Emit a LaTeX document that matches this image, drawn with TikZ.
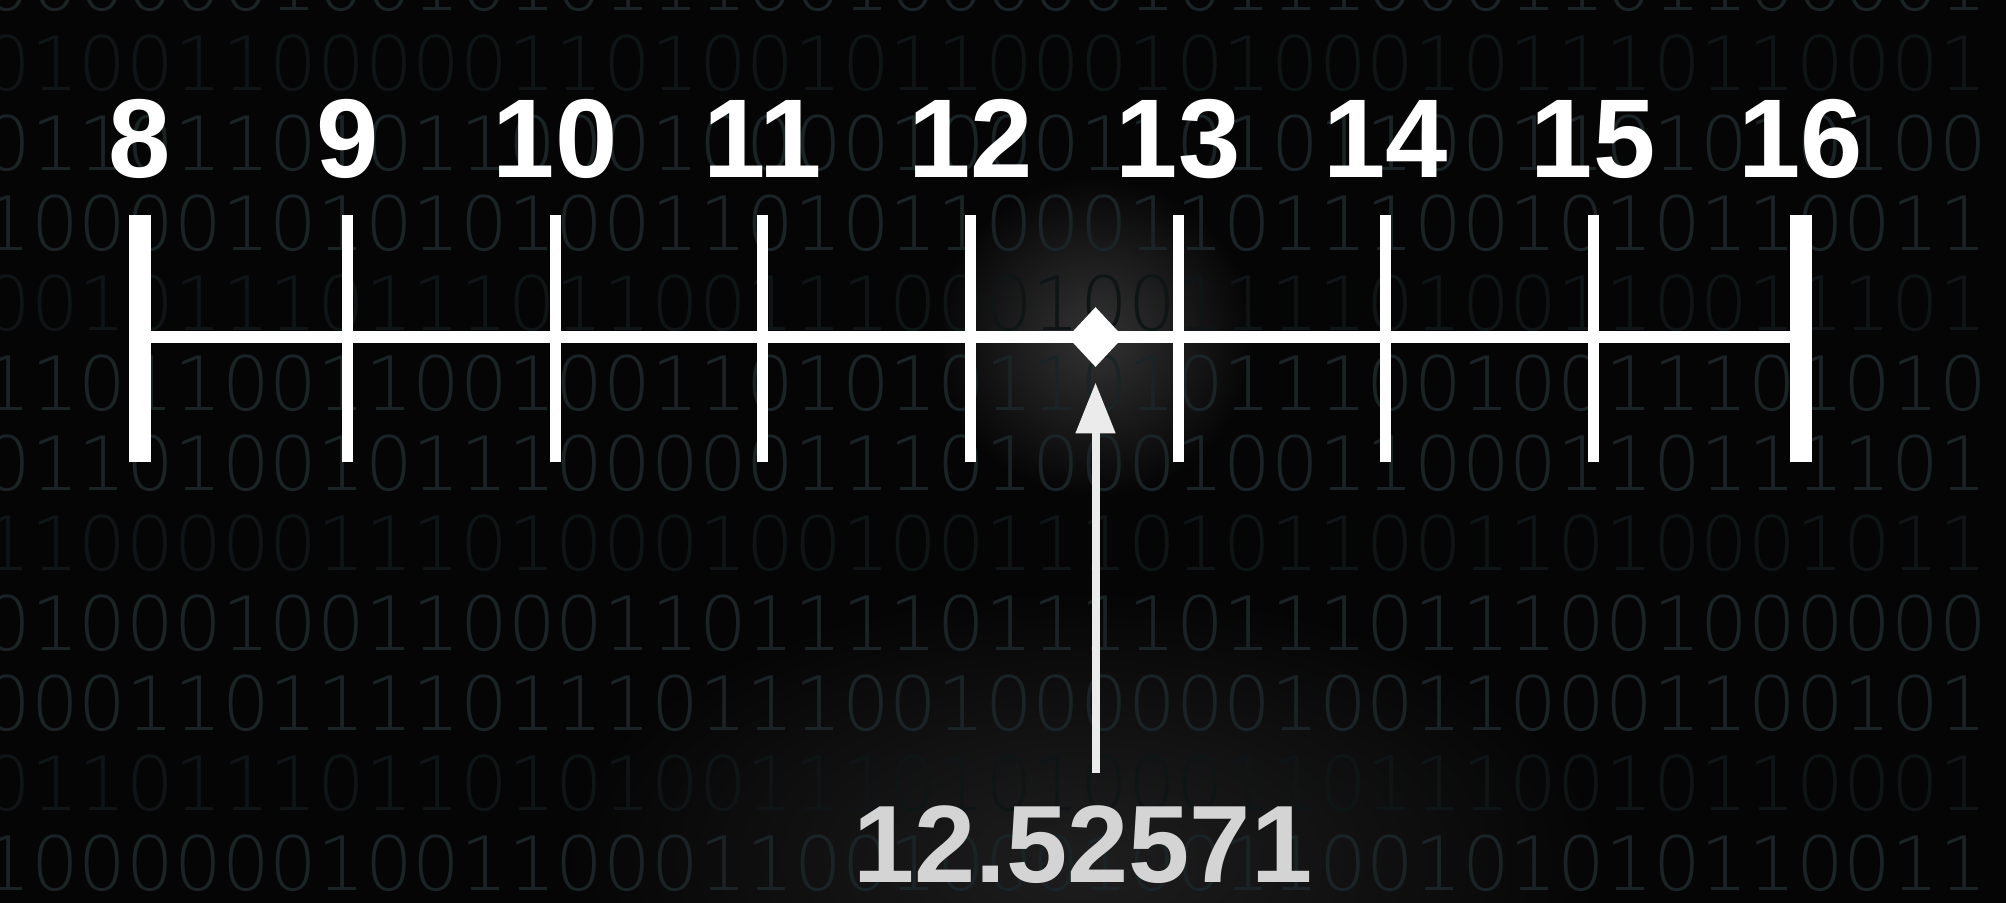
\documentclass[tikz,border=0pt]{standalone}
\usepackage{fontspec}
\setmainfont{Liberation Sans}
\IfFontExistsTF{DejaVu Sans ExtraLight}
  {\newfontfamily\binfont{DejaVu Sans ExtraLight}}
  {\newfontfamily\binfont{DejaVu Sans Mono}}
\usetikzlibrary{shapes.geometric,arrows.meta}
\definecolor{bg}{HTML}{050505}
\definecolor{binA}{HTML}{1A2427}
\definecolor{binB}{HTML}{0F1517}
\definecolor{numgray}{HTML}{D4D4D4}
\definecolor{glowA}{HTML}{333333}
\definecolor{glowB}{HTML}{1E1E1E}
\begin{document}
\begin{tikzpicture}[x=0.5pt,y=-0.5pt,
  tickline/.style={line width=5.5pt, white},
  endbar/.style={line width=11pt, white},
  axisline/.style={line width=6pt, white},
  lbl/.style={text=white, font=\fontsize{56}{60}\selectfont\bfseries, inner sep=0pt, anchor=base},
  numlbl/.style={text=numgray, font=\fontsize{55}{60}\selectfont\bfseries, inner sep=0pt, anchor=base},
  binrow/.style={font=\binfont\fontsize{37.5}{40}\selectfont, inner sep=0pt, anchor=base west},
  marker/.style={diamond, fill=white, inner sep=0pt, minimum width=28pt, minimum height=30pt},
  arr/.style={line width=4pt, color=white!92!black, -{Triangle[length=25.5pt,width=19pt]}, shorten >=7.5pt}]
\useasboundingbox (0,0) rectangle (2006,902);
\fill[bg] (-20,-20) rectangle (2026,922);
\clip (0,0) rectangle (2006,902);
% glows
\shade[inner color=glowB, outer color=bg] (1083,860) ellipse (520 and 270);
\shade[inner color=glowA, outer color=bg] (1095,337) circle (160);
% binary background
\foreach \s/\c [count=\i] in {
  000000100101011100100000101110001101100001/binA,
  010011000001101001011000101000101110110001/binB,
  011011010110001000010001101011001101010100/binA,
  100001010101001101011000110111001010110011/binA,
  001011101110110011100010011110100110011101/binB,
  110110011001001101010110101110010011101010/binA,
  011010010111000001110100010011000110111101/binA,
  110000011101000100100111010110011010001011/binB,
  010001001100011011110111101110111001000000/binA,
  000110111101110111001000000100110001100101/binA,
  011011101101010011101010001101110010110001/binB,
  100000010011000110010001001100101010110011/binA}
{
  \node[binrow, text=\c] (row\i) at (-16.9, {-17+80*(\i-1)+27.5}) {\s};
}
% ruler coordinates and labels
\foreach \k in {8,...,16} {
  \coordinate (top\k) at ({140+207.6*(\k-8)},215);
  \coordinate (bot\k) at ({140+207.6*(\k-8)},462);
  \coordinate (mid\k) at ({140+207.6*(\k-8)},337);
  \node[lbl] (l\k) at ({140+207.6*(\k-8)},177) {\k};
}
\draw[axisline] (mid8) -- (mid16);
\foreach \k in {9,...,15} { \draw[tickline] (top\k) -- (bot\k); }
\draw[endbar] (top8) -- (bot8);
\draw[endbar] (top16) -- (bot16);
% marker, arrow and value
\node[marker] (d) at (1095.5,337) {};
\node[numlbl] (v) at (1083,882) {12.52571};
\coordinate (abase) at (1095.5,773);
\draw[arr] (abase) -- (d.south);
\end{tikzpicture}
\end{document}
